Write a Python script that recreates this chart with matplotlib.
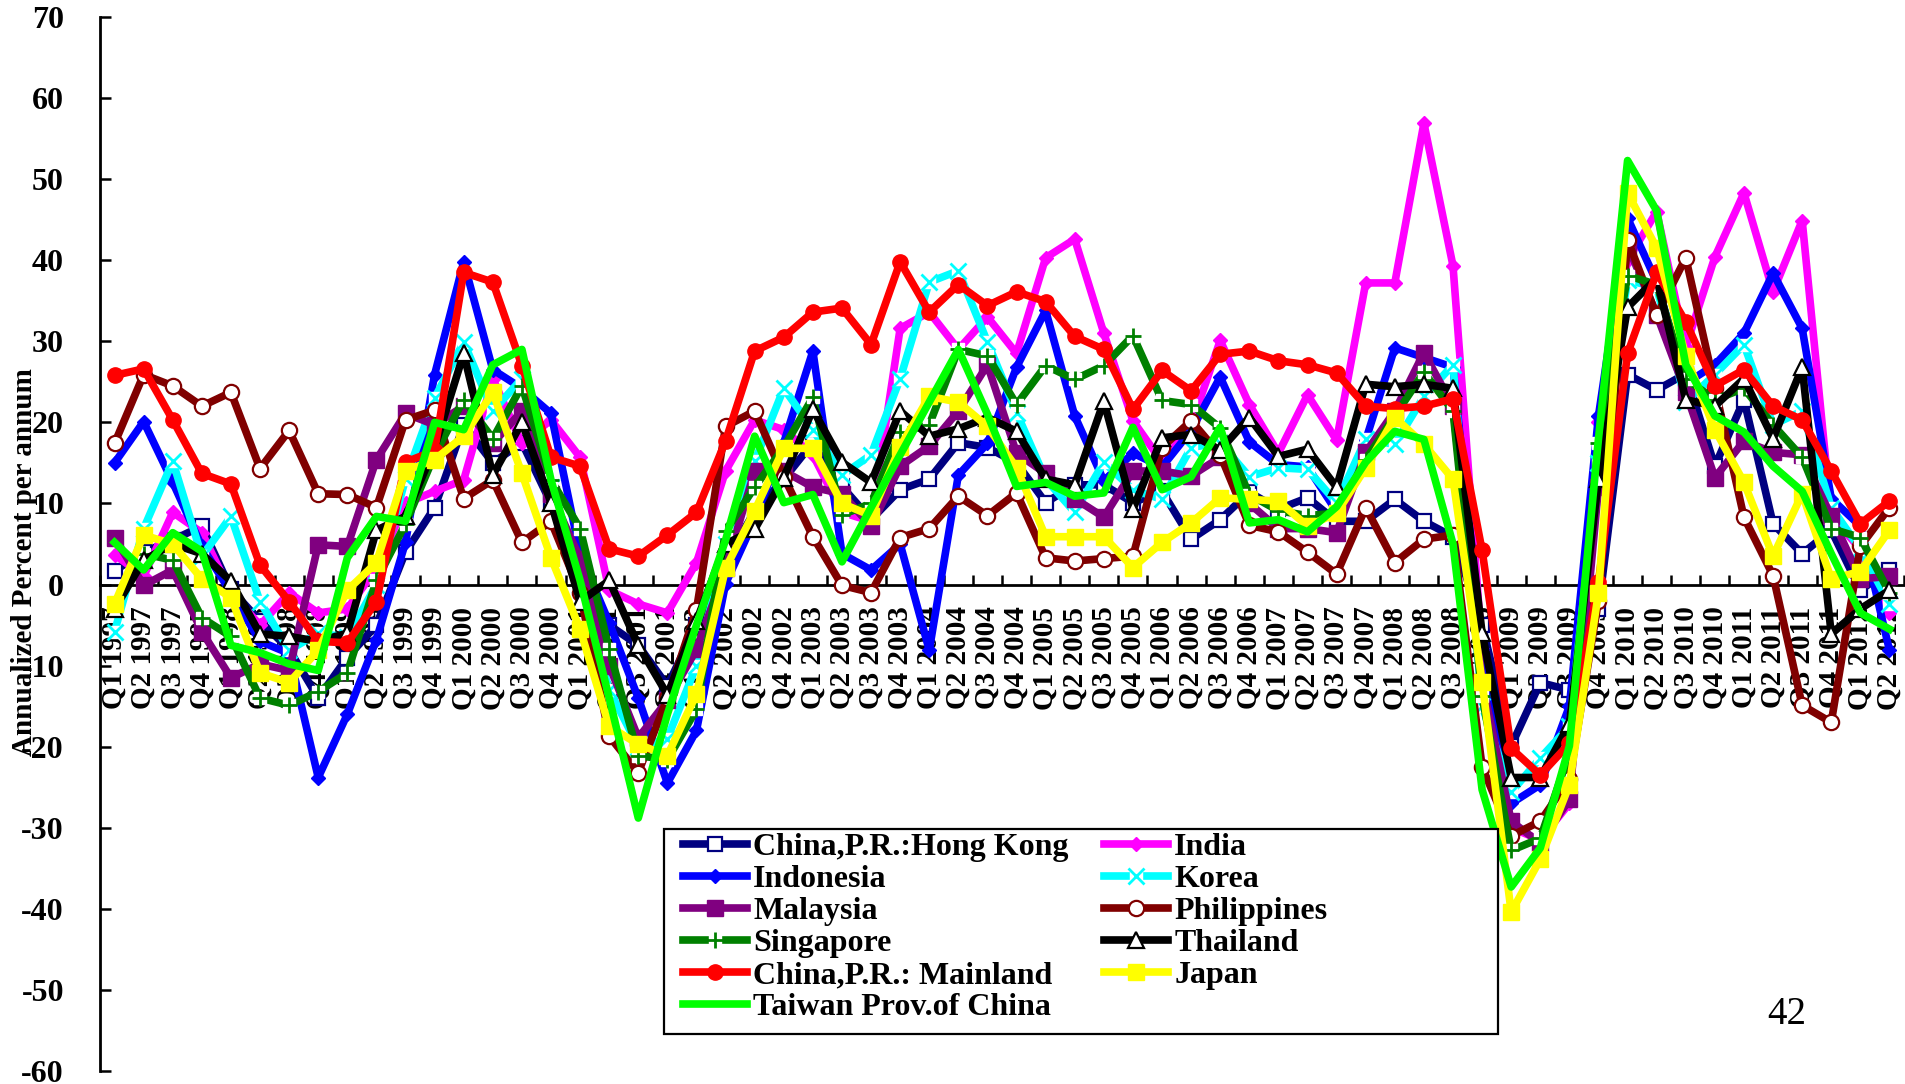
import matplotlib
matplotlib.use("Agg")
import matplotlib.pyplot as plt
from matplotlib.patches import Rectangle
from matplotlib.legend_handler import HandlerTuple
from matplotlib.transforms import offset_copy

plt.rcParams["font.family"] = ["Liberation Serif", "DejaVu Serif"]
plt.rcParams["font.weight"] = "bold"
plt.rcParams["axes.unicode_minus"] = False

# Quarter labels, Q1 1997 .. Q2 2012
quarters = [f"Q{q} {y}" for y in range(1997, 2013) for q in (1, 2, 3, 4)][:62]

hong_kong = [1.7, 4.0, 5.5, 7.2, -0.6, -4.5, -8.0, -14.0, -9.0, -5.0, 4.0, 9.5,
             19.7, 15.0, 17.5, 10.0, 3.0, -5.0, -7.5, -12.5, -5.0, 3.0, 9.0, 13.0,
             17.5, 12.1, 8.0, 11.7, 13.0, 17.5, 16.9, 15.0, 10.1, 12.3, 12.3, 10.1,
             11.5, 5.6, 8.0, 11.4, 9.3, 10.7, 7.8, 7.8, 10.5, 7.8, 5.9, -5.0,
             -19.9, -12.1, -13.0, -3.0, 25.9, 24.0, 26.0, 14.6, 22.8, 7.5, 3.8, 6.7, -0.7, 1.8]
india = [3.7, 1.0, 8.9, 6.4, -1.0, -5.0, -1.0, -3.5, -3.0, 2.0, 10.0, 11.5,
         12.9, 25.4, 17.4, 20.3, 15.7, -0.7, -2.4, -3.5, 2.7, 14.0, 20.3, 19.1,
         16.0, 8.9, 7.8, 31.6, 33.6, 29.0, 33.0, 28.5, 40.3, 42.6, 31.0, 20.2,
         15.1, 19.6, 30.1, 22.2, 16.2, 23.4, 17.8, 37.2, 37.2, 56.9, 39.3, -8.0,
         -30.0, -31.5, -27.0, 20.0, 40.0, 46.0, 29.3, 40.4, 48.3, 36.1, 44.9, 8.4, 4.4, -3.5]
indonesia = [15.0, 20.1, 12.6, 4.7, -1.0, -7.0, -8.5, -23.8, -16.0, -6.8, 5.2, 25.9,
             39.8, 26.5, 24.2, 21.1, 3.8, -4.7, -14.0, -24.5, -18.0, 0.1, 8.0, 17.5,
             28.8, 3.8, 1.8, 5.0, -8.1, 13.5, 17.4, 26.8, 33.8, 20.8, 12.8, 16.2,
             14.5, 19.0, 25.6, 17.6, 14.8, 14.5, 9.0, 17.8, 29.2, 28.0, 26.8, -8.0,
             -27.0, -24.7, -15.0, 20.8, 45.2, 37.3, 24.8, 27.1, 31.0, 38.4, 31.6, 10.6, 7.2, -8.1]
korea = [-5.8, 6.9, 15.2, 3.5, 8.4, -2.1, -8.1, -6.0, -6.5, 0.0, 13.0, 23.0,
         29.9, 21.4, 25.4, 12.0, 0.0, -13.0, -20.0, -19.0, -10.0, 5.0, 15.2, 24.2,
         19.1, 13.5, 16.0, 25.4, 37.3, 38.7, 29.9, 21.2, 13.0, 8.9, 15.1, 11.7,
         10.5, 16.9, 17.5, 13.3, 14.4, 14.2, 10.1, 17.9, 17.3, 23.2, 27.1, -15.0,
         -25.6, -21.4, -17.5, 15.0, 37.5, 36.7, 22.5, 25.9, 29.6, 19.7, 21.4, 9.5, 4.4, -2.4]
malaysia = [5.8, -0.1, 1.8, -5.8, -11.5, -9.8, -10.6, 4.9, 4.7, 15.4, 21.1, 19.7,
            22.0, 17.4, 21.4, 11.2, 3.2, -10.0, -18.9, -14.3, -8.0, 2.0, 14.0, 14.0,
            12.0, 11.2, 7.2, 14.6, 17.1, 21.4, 27.1, 16.2, 13.7, 10.6, 8.3, 14.0,
            14.0, 13.4, 15.7, 10.0, 6.9, 6.9, 6.4, 16.3, 21.4, 28.6, 22.0, -12.0,
            -29.2, -31.9, -26.5, 12.0, 41.8, 33.3, 23.7, 13.2, 17.7, 16.3, 16.0, 8.4, 0.7, 1.0]
philippines = [17.4, 25.9, 24.5, 22.0, 23.7, 14.3, 19.0, 11.2, 11.1, 9.5, 20.3, 21.5,
               10.6, 12.9, 5.2, 7.8, -1.0, -18.7, -23.2, -14.0, -3.1, 19.5, 21.4, 13.3,
               5.9, -0.1, -1.0, 5.8, 6.9, 10.9, 8.5, 11.3, 3.3, 2.9, 3.2, 3.5,
               16.9, 20.2, 16.0, 7.3, 6.5, 4.0, 1.3, 9.5, 2.7, 5.6, 6.1, -22.5,
               -31.0, -29.2, -24.0, -2.0, 42.5, 33.2, 40.3, 24.3, 8.3, 1.1, -14.9, -17.0, 4.7, 9.5]
singapore = [-3.0, 3.8, 3.0, -4.1, -6.4, -14.0, -14.9, -13.2, -10.9, 0.5, 7.5, 16.0,
             22.8, 18.0, 24.5, 12.9, 6.9, -8.0, -21.1, -21.6, -15.4, 6.6, 12.0, 16.9,
             23.1, 8.6, 10.0, 18.8, 19.7, 29.0, 28.2, 22.2, 27.0, 25.3, 27.0, 30.7,
             22.7, 22.2, 19.3, 11.1, 9.1, 8.5, 8.8, 15.4, 20.8, 26.2, 21.4, -13.8,
             -32.8, -31.3, -20.8, 17.5, 38.1, 37.0, 25.4, 22.8, 24.2, 19.7, 15.7, 6.9, 5.8, -1.0]
thailand = [-3.0, 3.0, 5.0, 3.8, 0.4, -6.1, -6.4, -7.0, -6.0, 6.7, 8.4, 16.9,
            28.5, 13.5, 20.0, 10.1, -2.1, 0.5, -7.5, -13.6, -4.5, 5.0, 6.8, 13.2,
            21.6, 15.1, 12.6, 21.4, 18.3, 19.2, 20.6, 18.9, 13.0, 12.3, 22.6, 9.3,
            18.1, 18.5, 16.6, 20.6, 15.8, 16.7, 12.0, 24.7, 24.4, 24.7, 24.2, -6.0,
            -23.8, -23.8, -17.2, 13.0, 34.2, 37.8, 22.8, 22.0, 25.4, 18.0, 26.8, -6.1, -3.0, -0.7]
mainland = [25.8, 26.6, 20.3, 13.7, 12.4, 2.4, -2.1, -7.0, -7.2, -2.1, 15.1, 16.5,
            38.5, 37.3, 27.0, 15.7, 14.6, 4.4, 3.5, 6.1, 8.9, 17.7, 28.8, 30.5,
            33.6, 34.1, 29.6, 39.8, 33.6, 37.0, 34.4, 36.1, 34.9, 30.6, 29.0, 21.6,
            26.4, 23.9, 28.4, 28.8, 27.6, 27.1, 26.1, 22.0, 21.7, 22.0, 22.9, 4.2,
            -20.2, -23.5, -19.6, 0.3, 28.5, 38.5, 32.4, 24.5, 26.5, 22.0, 20.3, 14.0, 7.5, 10.3]
japan = [-2.4, 6.1, 5.0, 0.7, -1.6, -10.9, -12.1, -8.1, -0.7, 2.7, 14.0, 15.4,
         18.3, 23.7, 13.7, 3.3, -5.5, -17.5, -19.7, -21.1, -13.5, 2.0, 9.1, 16.8,
         16.8, 10.0, 8.5, 17.0, 23.2, 22.5, 19.5, 14.4, 5.9, 5.9, 5.9, 2.1,
         5.2, 7.6, 10.7, 10.5, 10.3, 7.2, 8.8, 14.4, 20.6, 17.3, 13.0, -12.0,
         -40.4, -33.9, -24.7, -1.0, 48.3, 41.5, 28.2, 19.1, 12.6, 3.5, 11.2, 0.7, 1.6, 6.7]
taiwan = [5.2, 1.8, 6.4, 4.1, -7.5, -8.4, -9.8, -10.6, 3.3, 8.4, 7.8, 20.0,
          19.1, 27.1, 29.0, 12.9, 0.5, -14.0, -28.8, -16.0, -5.0, 5.5, 18.3, 10.1,
          11.1, 2.8, 9.5, 16.0, 22.5, 29.0, 21.0, 12.1, 12.6, 10.9, 11.3, 19.4,
          11.7, 13.3, 19.4, 7.6, 8.0, 6.5, 9.6, 15.1, 18.9, 17.9, 5.0, -25.3,
          -37.3, -32.5, -19.9, 18.0, 52.3, 46.1, 27.1, 20.8, 18.8, 14.6, 11.5, 3.8, -3.5, -5.5]

y_ticks = list(range(-60, 71, 10))

W, H = 1906, 1084
fig = plt.figure(figsize=(W / 100, H / 100), dpi=100)
ax = fig.add_axes([100 / W, 1 - 1071 / H, 1804 / W, 1054 / H])
ax.set_xlim(0, len(quarters))
ax.set_ylim(-60, 70)

x = [i + 0.5 for i in range(len(quarters))]
LW = 5.5

def draw(vals, color, z, **kw):
    return ax.plot(x, vals, color=color, lw=LW, zorder=z, **kw)[0]

h_hk = draw(hong_kong, "#000080", 3.0, marker="s", ms=10, mfc="white", mec="#000080", mew=1.6)
h_in = draw(india, "#FF00FF", 3.1, marker="D", ms=7, mfc="#FF00FF", mec="#FF00FF")
h_id = draw(indonesia, "#0000FF", 3.2, marker="D", ms=7, mfc="#0000FF", mec="#0000FF")
h_kr_l = draw(korea, "#00FFFF", 3.3, marker="s", ms=9, mfc="white", mec="white")
h_kr_m = ax.plot(x, korea, ls="none", marker="x", ms=11, mew=2, color="#00FFFF", zorder=3.31)[0]
h_my = draw(malaysia, "#800080", 3.4, marker="s", ms=11, mfc="#800080", mec="#800080")
h_ph = draw(philippines, "#800000", 3.5, marker="o", ms=11, mfc="white", mec="#800000", mew=1.6)
h_sg_l = draw(singapore, "#008000", 3.6, marker="s", ms=9, mfc="white", mec="white")
h_sg_m = ax.plot(x, singapore, ls="none", marker="+", ms=11, mew=2, color="#008000", zorder=3.61)[0]
h_th = draw(thailand, "black", 3.7, marker="^", ms=12, mfc="white", mec="black", mew=1.6)
h_cn = draw(mainland, "#FF0000", 3.8, marker="o", ms=11, mfc="#FF0000", mec="#FF0000")
h_jp = draw(japan, "#FFFF00", 3.9, marker="s", ms=12, mfc="#FFFF00", mec="#FFFF00")
h_tw = draw(taiwan, "#00FF00", 4.0)

# axes styling
for s in ("top", "right"):
    ax.spines[s].set_visible(False)
ax.spines["bottom"].set_position(("data", 0))
ax.spines["left"].set_linewidth(2)
ax.spines["bottom"].set_linewidth(2)

ax.set_yticks(y_ticks)
ax.set_yticklabels([str(v) for v in y_ticks])
ax.tick_params(axis="y", direction="in", length=8, width=1.8, pad=26, labelsize=23)

ax.set_xticks(range(len(quarters) + 1))
ax.set_xticklabels([])
ax.tick_params(axis="x", which="major", direction="in", length=7, width=1.8)

# category labels hanging below the zero line
lab_trans = offset_copy(ax.transData, fig=fig, x=0, y=-22, units="dots")
for xi, q in zip(x, quarters):
    ax.text(xi, 0, q, transform=lab_trans, rotation=90, ha="center", va="top",
            fontsize=21, fontweight="bold", zorder=2.5, clip_on=False)

fig.text(25 / W, 1 - 562 / H, "Annualized Percent per annum", rotation=90,
         ha="center", va="center", fontsize=21, fontweight="bold")

fig.text(1787 / W, 1 - 1015 / H, "42", ha="center", va="center",
         fontsize=28, fontweight="normal")

# legend box and entries
box = Rectangle((664 / W, 1 - 1034 / H), 834 / W, 205 / H, transform=fig.transFigure,
                facecolor="white", edgecolor="black", lw=1.6, zorder=10)
fig.add_artist(box)

handles = [h_hk, h_id, h_my, (h_sg_l, h_sg_m), h_cn, h_tw,
           h_in, (h_kr_l, h_kr_m), h_ph, h_th, h_jp]
labels = ["China,P.R.:Hong Kong", "Indonesia", "Malaysia", "Singapore",
          "China,P.R.: Mainland", "Taiwan Prov.of China",
          "India", "Korea", "Philippines", "Thailand", "Japan"]
leg = fig.legend(handles, labels, loc="upper left",
                 bbox_to_anchor=(683 / W, 1 - 833 / H), bbox_transform=fig.transFigure,
                 ncol=2, frameon=False, borderpad=0, borderaxespad=0,
                 handlelength=2.0, handletextpad=0.2, columnspacing=1.1,
                 labelspacing=0.08, numpoints=1,
                 prop={"weight": "bold", "size": 23},
                 handler_map={tuple: HandlerTuple(ndivide=1, pad=0)})
leg.set_zorder(11)

fig.savefig("out.png", dpi=100, facecolor="white")
